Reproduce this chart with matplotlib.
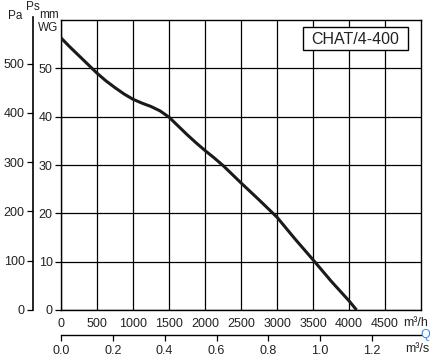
import matplotlib
matplotlib.use("Agg")
import matplotlib.pyplot as plt
from matplotlib.patches import Rectangle
from matplotlib.ticker import FormatStrFormatter

plt.rcParams['font.family'] = ['Liberation Sans', 'DejaVu Sans']
plt.rcParams['font.size'] = 9

# curve: airflow (m3/h) vs static pressure (mm WG)
flow_m3h = [0, 125, 250, 375, 500, 625, 750, 875, 1000, 1125, 1250, 1375, 1500,
            1625, 1750, 1875, 2000, 2125, 2250, 2500, 2750, 3000, 3250, 3500, 3750, 4000, 4105]
ps_mmwg = [56.3, 54.4, 52.6, 50.8, 49.0, 47.4, 46.0, 44.7, 43.6, 42.8, 42.1, 41.2, 39.9,
           38.1, 36.3, 34.6, 33.0, 31.5, 29.9, 26.3, 22.8, 19.2, 14.7, 10.4, 6.0, 1.9, 0.0]

x_ticks = [0, 500, 1000, 1500, 2000, 2500, 3000, 3500, 4000, 4500]
mm_ticks = [0, 10, 20, 30, 40, 50]
pa_ticks = [0, 100, 200, 300, 400, 500]
q_ticks = [0.0, 0.2, 0.4, 0.6, 0.8, 1.0, 1.2]
model = "CHAT/4-400"

W, H = 438, 360
TXT = '#222222'
fig = plt.figure(figsize=(W / 100, H / 100), dpi=100)

def px(x, y):
    return x / W, 1 - y / H

left, right, top, bottom = 61, 421, 20, 310
ax = fig.add_axes([left / W, 1 - bottom / H, (right - left) / W, (bottom - top) / H])

ax.plot(flow_m3h, ps_mmwg, color='#1a1a1a', lw=2.2, solid_capstyle='butt',
        solid_joinstyle='round', zorder=3)

ax.set_xlim(0, 5000)
ax.set_ylim(0, 60)
ax.set_xticks(x_ticks)
ax.set_yticks(mm_ticks)
ax.grid(True, color='black', lw=0.9)
ax.set_axisbelow(True)
for s in ax.spines.values():
    s.set_linewidth(1.0)
ax.tick_params(axis='x', length=0, pad=5.5, labelcolor=TXT)
ax.tick_params(axis='y', direction='out', length=4, width=0.9, pad=2, labelcolor=TXT)

# Pa axis further left: transparent axes, left spine + ticks only
pa_per_mm = 9.80665
pa_x = 33
extra = 3  # spine reaches a bit above the frame
ax_pa = fig.add_axes([pa_x / W, 1 - bottom / H, 14 / W, (bottom - top + extra) / H])
ax_pa.set_ylim(0, 60 * pa_per_mm * (bottom - top + extra) / (bottom - top))
ax_pa.set_yticks(pa_ticks)
ax_pa.set_xticks([])
ax_pa.patch.set_visible(False)
for k in ('top', 'right', 'bottom'):
    ax_pa.spines[k].set_visible(False)
ax_pa.spines['left'].set_linewidth(1.2)
ax_pa.spines['left'].set_color('black')
ax_pa.tick_params(direction='out', length=4, width=0.9, pad=2, labelcolor=TXT)

# m3/s axis below
q_ax = ax.secondary_xaxis(-0.086, functions=(lambda v: v / 3600, lambda v: v * 3600))
q_ax.set_xticks(q_ticks)
q_ax.xaxis.set_major_formatter(FormatStrFormatter('%.1f'))
q_ax.spines['bottom'].set_linewidth(1.0)
q_ax.tick_params(direction='out', length=4.5, width=0.9, pad=2.5, labelcolor=TXT)

# unit labels
fig.text(*px(15, 16), "Pa", ha='center', va='center', fontsize=8.5, color=TXT)
fig.text(*px(33, 7), "Ps", ha='center', va='center', fontsize=8.5, color=TXT)
fig.text(*px(49, 15), "mm", ha='center', va='center', fontsize=8.5, color=TXT)
fig.text(*px(48, 28), "WG", ha='center', va='center', fontsize=8.5, color=TXT)
fig.text(*px(416, 323), "m³/h", ha='center', va='center', color=TXT)
fig.text(*px(425, 335), "Q", ha='center', va='center', color='#3a8ee0')
fig.text(*px(417, 349), "m³/s", ha='center', va='center', color=TXT)

# model label box
bx0, by0, bx1, by1 = 303, 27, 408, 50
fig.patches.append(Rectangle(px(bx0, by1), (bx1 - bx0) / W, (by1 - by0) / H,
                             transform=fig.transFigure, fc='white', ec='black', lw=1.0, zorder=5))
fig.text(*px((bx0 + bx1) / 2, (by0 + by1) / 2 + 0.5), model, ha='center', va='center',
         fontsize=11.5, color=TXT, zorder=6)

fig.savefig("out.png", dpi=100)
